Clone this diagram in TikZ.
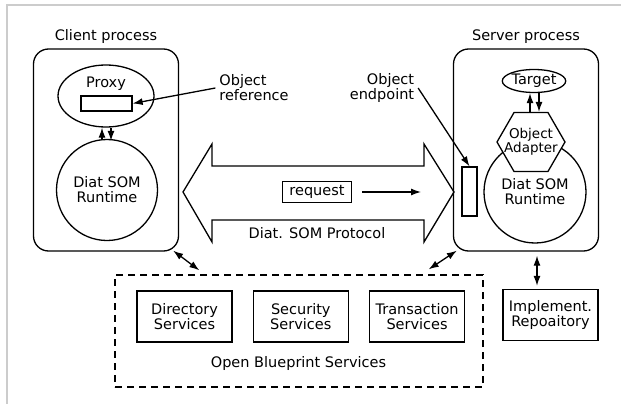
\documentclass[tikz,border=0pt]{standalone}
\usepackage{fontspec}
\setmainfont{DejaVu Sans}
\usetikzlibrary{shapes,arrows.meta,positioning,calc}

\begin{document}
\begin{tikzpicture}[x=1pt, y=-1pt, line width=1.3pt,
  every node/.style={font=\fontsize{14.5}{15}\selectfont, align=center},
  proc/.style={rectangle, rounded corners=15pt, draw, minimum width=145pt, minimum height=202pt},
  svc/.style={rectangle, draw, minimum width=95pt, minimum height=51pt, inner sep=2pt},
  link/.style={-{Latex[length=10pt,width=7pt]}},
  both/.style={{Latex[length=10pt,width=7pt]}-{Latex[length=10pt,width=7pt]}}]

\useasboundingbox (0,0) rectangle (621,404);
\draw[black!20, line width=1.5pt] (7,404) -- (7,5) -- (621,5);

% client side
\node[proc] (client) at (106,150) {};
\node[above=1pt of client] (clientlbl) {Client process};
\node[ellipse, draw, minimum width=96pt, minimum height=62pt] (proxy) at (106,96) {};
\node (proxylbl) at (106,84) {Proxy};
\node[draw, minimum width=51pt, minimum height=15pt, inner sep=0pt] (ref) at (106.5,103.5) {};
\node[circle, draw, minimum size=101pt] (crt) at (107,190) {Diat SOM\\Runtime};
\draw[link] ([xshift=-5pt]crt.north) -- ([xshift=-5pt]crt.north |- proxy.south);
\draw[link] ([xshift=4pt]crt.north |- proxy.south) -- ([xshift=4pt,yshift=-2pt]crt.north);
\node[align=left] (objref) at (254,88) {Object\\reference};
\draw[link] (objref.west) -- (ref.east);

% server side
\node[proc] (server) at (526,150) {};
\node[above=1pt of server] (serverlbl) {Server process};
\node[ellipse, draw, inner sep=0pt, minimum width=61pt, minimum height=23pt] (target) at (534,81) {Target};
\node[circle, draw, minimum size=102pt] (srt) at (535,192) {Diat SOM\\Runtime};
\node[regular polygon, regular polygon sides=6, draw, fill=white, minimum size=68pt, inner sep=0pt] (oa) at (531,142) {};
\node[font=\fontsize{13.5}{14.5}\selectfont] (oalbl) at (oa) {Object\\Adapter};
\draw[link] ([xshift=-1pt]oa.north) -- ([xshift=-1pt]oa.north |- target.south);
\draw[link] ([xshift=8pt]oa.north |- target.south) -- ([xshift=8pt]oa.north);
\node[draw, minimum width=15pt, minimum height=49pt, inner sep=0pt] (endpt) at (469.5,191.5) {};
\node[align=right] (objend) at (382,88) {Object\\endpoint};
\draw[link] (objend.east) -- (endpt.north);

% protocol
\draw (183,192) -- (212,144) -- (212,166) -- (424,166) -- (424,144) -- (454,192)
  -- (424,242) -- (424,220) -- (212,220) -- (212,242) -- cycle;
\node[draw, minimum width=69pt, minimum height=21pt] (req) at (317,192) {request};
\coordinate (reqend) at (421,192);
\draw[link] ([xshift=10pt]req.east) -- (reqend);
\node (proto) at (317,233) {Diat. SOM Protocol};

% open blueprint services
\node[draw, dash pattern=on 7pt off 5pt, minimum width=368pt, minimum height=112pt] (obs) at (299,331) {};
\node[svc] (dir) at (184.5,316.5) {Directory\\Services};
\node[svc, right=20pt of dir] (sec) {Security\\Services};
\node[svc, right=20pt of sec] (trans) {Transaction\\Services};
\node (obslbl) at (298.5,363) {Open Blueprint Services};
\node[svc] (impl) at (550.5,315) {Implement.\\Repoaitory};

\draw[both] ([xshift=-6pt,yshift=1pt]client.south east) -- ([xshift=85pt,yshift=4pt]obs.north west);
\draw[both] ([xshift=4pt,yshift=1pt]server.south west) -- ([xshift=-55pt,yshift=5pt]obs.north east);
\draw[both] ([xshift=-13.5pt,yshift=3pt]impl.north) -- ([xshift=-13.5pt,yshift=-4pt]impl.north |- server.south);
\end{tikzpicture}
\end{document}
